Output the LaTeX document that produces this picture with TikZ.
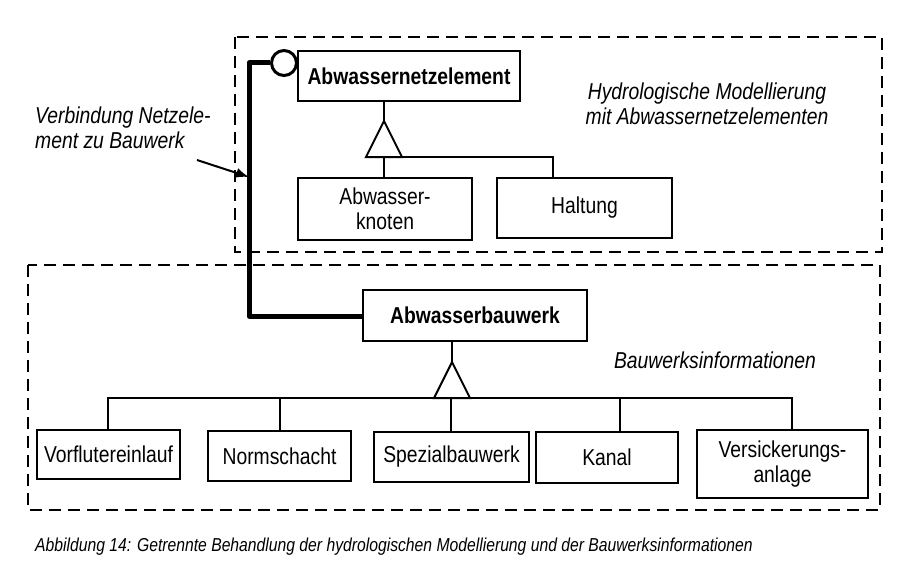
\documentclass[tikz,border=0pt]{standalone}
\usepackage{fontspec}
\setmainfont[FakeStretch=0.84]{Liberation Sans}
\usetikzlibrary{arrows.meta}
\begin{document}
\begin{tikzpicture}[x=1pt,y=-1pt,
  box/.style={draw,line width=2.2pt,inner sep=0pt,align=center,font=\fontsize{23}{25}\selectfont},
  bbox/.style={box,font=\fontsize{23}{25}\selectfont\bfseries},
  thin/.style={line width=2pt},
  thick link/.style={line width=5pt},
  region/.style={line width=2.8pt,dash pattern=on 12pt off 7pt},
  lbl/.style={font=\fontsize{23}{25}\selectfont\itshape,inner sep=0pt}]
\useasboundingbox (0,0) rectangle (907,567);

% dashed regions
\draw[region] (235,37) rectangle (882,252);
\draw[region] (28,265) rectangle (880,510);

% upper class hierarchy
\node[bbox,minimum width=222pt,minimum height=50pt] (netz) at (409,76) {Abwassernetzelement};
\node[box,minimum width=174pt,minimum height=62pt] (knoten) at (385,209) {Abwasser-\\knoten};
\node[box,minimum width=175pt,minimum height=60pt] (haltung) at (584.5,208) {\raisebox{-3pt}{Haltung}};

\coordinate (t1) at (384,121);
\coordinate (t1l) at (366,157);
\coordinate (t1r) at (402,157);
\coordinate (t1b) at (384,157);
\draw[thin,line join=miter] (t1) -- (t1l) -- (t1r) -- cycle;
\draw[thin] (netz.south -| t1) -- (t1);
\draw[thin] (t1b) -- (t1b |- knoten.north);
\draw[thin] (t1r) -- (553,157) -- (553,157 |- haltung.north);

% lower class hierarchy
\node[bbox,minimum width=224pt,minimum height=51pt] (bau) at (475,315.5) {Abwasserbauwerk};
\node[box,minimum width=143pt,minimum height=49pt] (vorf) at (108.5,454.5) {Vorflutereinlauf};
\node[box,minimum width=143pt,minimum height=50pt] (norm) at (279.5,456) {Normschacht};
\node[box,minimum width=155pt,minimum height=50pt] (spez) at (451.5,457) {Spezialbauwerk};
\node[box,minimum width=142pt,minimum height=51pt] (kanal) at (607,457.5) {Kanal};
\node[box,minimum width=171pt,minimum height=68pt] (vers) at (782.5,464) {Versickerungs-\\anlage};

\coordinate (t2) at (452,362);
\coordinate (t2l) at (434,398);
\coordinate (t2r) at (470,398);
\draw[thin,line join=miter] (t2) -- (t2l) -- (t2r) -- cycle;
\draw[thin] (bau.south -| t2) -- (t2);
\draw[thin] (108,398 |- vorf.north) -- (108,398) -- (792,398) -- (792,398 |- vers.north);
\draw[thin] (280,398) -- (280,398 |- norm.north);
\draw[thin] (451,398) -- (451,398 |- spez.north);
\draw[thin] (620,398) -- (620,398 |- kanal.north);

% link between element and structure
\node[draw,circle,line width=3pt,minimum size=25pt,inner sep=0pt] (ring) at (284,63) {};
\coordinate (corner1) at (249,63);
\coordinate (corner2) at (249,316);
\draw[thick link,line join=round] (ring.west) -- (corner1) -- (corner2) -- (corner2 -| bau.west);

% labels
\node[lbl,align=center] (hyd) at (707,104) {Hydrologische Modellierung\\mit Abwassernetzelementen};
\node[lbl] (bwi) at (715,360) {Bauwerksinformationen};
\node[lbl,align=left,anchor=west] (verb) at (35,128) {Verbindung Netzele-\\ment zu Bauwerk};
\coordinate (arrtail) at (197,160);
\draw[line width=2pt,-{Latex[length=13pt,width=10pt]}] (arrtail) -- (corner1 |- 0,177);

\node[anchor=west,inner sep=0pt,font=\fontsize{18.7}{20}\selectfont\itshape] (cap) at (35,547) {Abbildung 14: Getrennte Behandlung der hydrologischen Modellierung und der Bauwerksinformationen};
\end{tikzpicture}
\end{document}
